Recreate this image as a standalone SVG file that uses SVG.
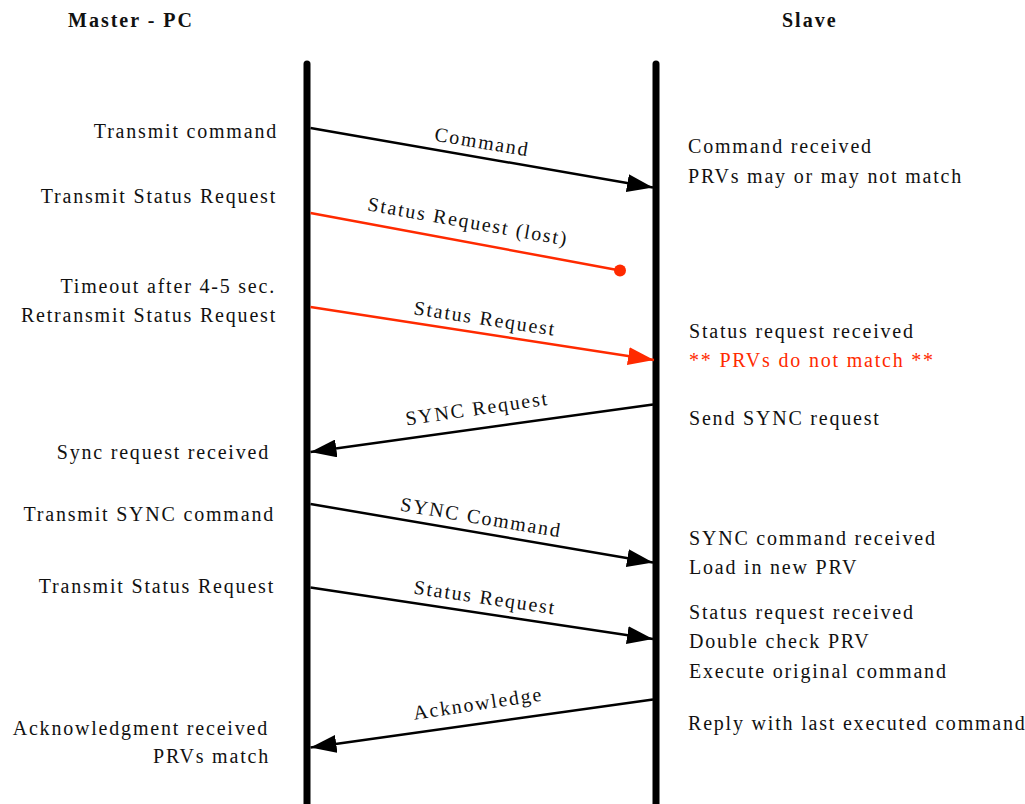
<svg xmlns="http://www.w3.org/2000/svg" width="1025" height="804" viewBox="0 0 1025 804">
<defs>
<style>
text{font-family:"Liberation Serif","Times New Roman",serif;font-size:20px;letter-spacing:1.8px;fill:#111}
.hdr{font-weight:bold;letter-spacing:2px}
.end{text-anchor:end}
.mid{text-anchor:middle}
.red{fill:#ff2a00}
.life{stroke:#000;stroke-width:7;stroke-linecap:round;fill:none}
.msg{stroke:#000;stroke-width:2.5;fill:none}
.msgr{stroke:#ff2a00;stroke-width:2.5;fill:none}
</style>
<marker id="ah" markerUnits="userSpaceOnUse" markerWidth="26" markerHeight="18" viewBox="0 0 26 18" refX="26" refY="9" orient="auto"><path d="M0,0 L26,9 L0,18 z" fill="#000"/></marker>
<marker id="ahr" markerUnits="userSpaceOnUse" markerWidth="26" markerHeight="18" viewBox="0 0 26 18" refX="26" refY="9" orient="auto"><path d="M0,0 L26,9 L0,18 z" fill="#ff2a00"/></marker>
</defs>
<rect width="1025" height="804" fill="#fff"/>
<g id="master">
<text class="hdr" x="68" y="27">Master - PC</text>
<line class="life" x1="307" y1="64" x2="307" y2="820"/>
</g>
<g id="slave">
<text class="hdr" x="782" y="27">Slave</text>
<line class="life" x1="656" y1="64" x2="656" y2="820"/>
</g>
<g id="master-notes">
<text class="end" x="278" y="138">Transmit command</text>
<text class="end" x="277" y="203">Transmit Status Request</text>
<text class="end" x="276" y="293">Timeout after 4-5 sec.</text>
<text class="end" x="277" y="321.5">Retransmit Status Request</text>
<text class="end" x="270" y="459">Sync request received</text>
<text class="end" x="275" y="521">Transmit SYNC command</text>
<text class="end" x="275" y="593">Transmit Status Request</text>
<text class="end" x="269" y="735">Acknowledgment received</text>
<text class="end" x="270" y="763">PRVs match</text>
</g>
<g id="slave-notes">
<text x="688" y="153">Command received</text>
<text x="688" y="183">PRVs may or may not match</text>
<text x="689" y="338">Status request received</text>
<text class="red" x="689" y="366.5">** PRVs do not match **</text>
<text x="689" y="425">Send SYNC request</text>
<text x="689" y="545">SYNC command received</text>
<text x="689" y="574">Load in new PRV</text>
<text x="689" y="619">Status request received</text>
<text x="689" y="648">Double check PRV</text>
<text x="689" y="677.5">Execute original command</text>
<text x="688" y="730">Reply with last executed command</text>
</g>
<g id="connectors">
<line class="msg" x1="310.5" y1="128" x2="653" y2="187.5" marker-end="url(#ah)"/>
<text class="mid" x="481" y="148.5" transform="rotate(9.5 481 148.5)">Command</text>
<line class="msgr" x1="310.5" y1="213" x2="620" y2="270.5"/>
<circle cx="620" cy="270.5" r="6" fill="#ff2a00"/>
<text class="mid" x="467" y="228" transform="rotate(10 467 228)">Status Request (lost)</text>
<line class="msgr" x1="310.5" y1="307" x2="654" y2="360" marker-end="url(#ahr)"/>
<text class="mid" x="484" y="325" transform="rotate(8.7 484 325)">Status Request</text>
<line class="msg" x1="653" y1="404.5" x2="310.5" y2="452" marker-end="url(#ah)"/>
<text class="mid" x="478" y="415" transform="rotate(-8.3 478 415)">SYNC Request</text>
<line class="msg" x1="310.5" y1="504" x2="653" y2="562.5" marker-end="url(#ah)"/>
<text class="mid" x="480" y="524" transform="rotate(9.5 480 524)">SYNC Command</text>
<line class="msg" x1="310.5" y1="587.5" x2="653" y2="639" marker-end="url(#ah)"/>
<text class="mid" x="484" y="604" transform="rotate(8.4 484 604)">Status Request</text>
<line class="msg" x1="653" y1="699.5" x2="310.5" y2="747.5" marker-end="url(#ah)"/>
<text class="mid" x="479" y="710" transform="rotate(-8.5 479 710)">Acknowledge</text>
</g>
</svg>
